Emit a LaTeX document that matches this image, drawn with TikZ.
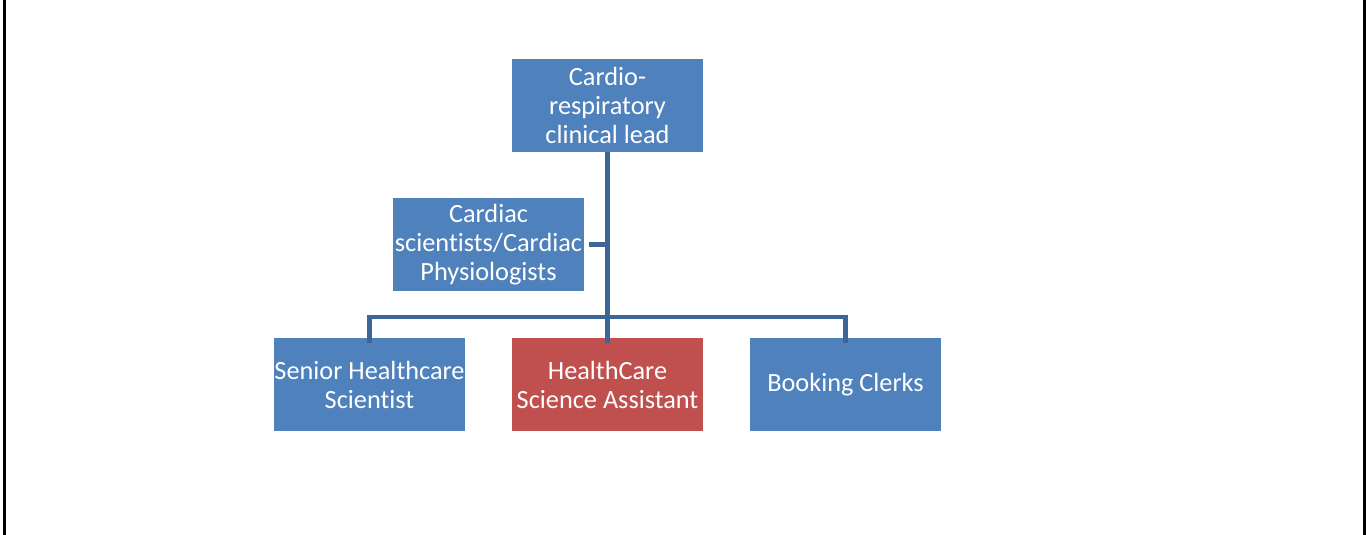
\documentclass[tikz,border=0pt]{standalone}
\usepackage{fontspec}
\setmainfont{Carlito}[Ligatures=NoCommon]
\definecolor{boxblue}{HTML}{4F81BD}
\definecolor{boxred}{HTML}{C0504D}
\definecolor{linkblue}{HTML}{3D6698}
\begin{document}
\begin{tikzpicture}[x=1pt,y=-1pt,
  orgbox/.style={fill=boxblue, draw=none, minimum width=191pt, minimum height=93pt,
    align=center, text=white, inner sep=0pt,
    font=\fontsize{26.3}{29}\selectfont},
  link/.style={draw=linkblue, line width=4.5pt}]
\useasboundingbox (0,0) rectangle (1366,535);
\draw[line width=3pt] (4,0) -- (4,535);
\draw[line width=3pt] (1364.5,0) -- (1364.5,535);
\node[orgbox] (lead) at (607.5,105.5) {Cardio-\\respiratory\\clinical lead};
\node[orgbox] (card) at (488.5,244.5) {Cardiac\\scientists/Cardiac\\Physiologists};
\node[orgbox] (senior) at (369.5,384.5) {Senior Healthcare\\Scientist};
\node[orgbox, fill=boxred] (hca) at (607.5,384.5) {HealthCare\\Science Assistant};
\node[orgbox] (book) at (845.5,384.5) {Booking Clerks};
\coordinate (bar) at (607.5,317);
\draw[link] (lead.south) -- ([yshift=-5pt]hca.north);
\draw[link] ([xshift=5pt]card.east) -- (card.east -| lead.south);
\draw[link] ([yshift=-5pt]senior.north) |- (bar) -| ([yshift=-5pt]book.north);
\end{tikzpicture}
\end{document}
